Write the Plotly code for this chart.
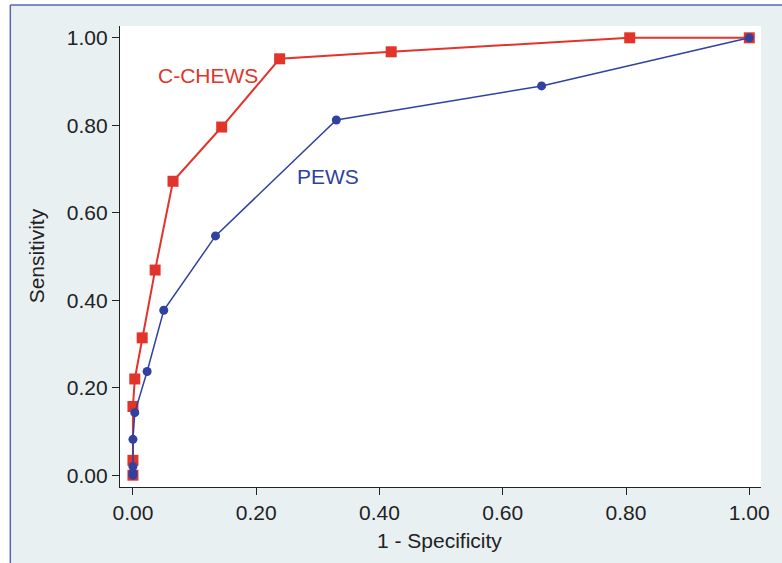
import plotly.graph_objects as go

# ROC curve points (1 - specificity, sensitivity)
chews_fpr = [0.0, 0.0, 0.0, 0.003, 0.015, 0.036, 0.065, 0.144, 0.238, 0.419, 0.806, 1.0]
chews_tpr = [0.0, 0.034, 0.157, 0.220, 0.314, 0.469, 0.672, 0.796, 0.952, 0.968, 1.0, 1.0]

pews_fpr = [0.0, 0.0, 0.0, 0.0, 0.003, 0.023, 0.050, 0.134, 0.330, 0.663, 1.0]
pews_tpr = [0.0, 0.005, 0.020, 0.082, 0.143, 0.237, 0.377, 0.547, 0.812, 0.890, 1.0]

tick_vals = [0.0, 0.2, 0.4, 0.6, 0.8, 1.0]
tick_text = ["0.00", "0.20", "0.40", "0.60", "0.80", "1.00"]

RED = "#e2342b"
BLUE = "#3041a0"
BG = "#e9f0f2"
FRAME = "#5c64b8"
FONT = "Liberation Sans, Arial, Helvetica, sans-serif"

fig = go.Figure()
fig.add_trace(go.Scatter(
    x=chews_fpr, y=chews_tpr, mode="lines+markers", name="C-CHEWS",
    line=dict(color=RED, width=2),
    marker=dict(symbol="square", size=11, color=RED),
))
fig.add_trace(go.Scatter(
    x=pews_fpr, y=pews_tpr, mode="lines+markers", name="PEWS",
    line=dict(color=BLUE, width=1.5),
    marker=dict(symbol="circle", size=9, color=BLUE),
))

axis_common = dict(
    tickvals=tick_vals, ticktext=tick_text, ticks="outside", ticklen=7,
    tickwidth=1.3, tickcolor="#222", showline=True, linecolor="#222",
    linewidth=1.3, showgrid=False, zeroline=False,
    tickfont=dict(family=FONT, size=21, color="#222"),
)

fig.update_layout(
    width=782, height=563,
    margin=dict(l=120, r=19, t=26, b=76),
    paper_bgcolor=BG, plot_bgcolor="white",
    showlegend=False,
    xaxis=dict(range=[-0.021, 1.019], **axis_common),
    yaxis=dict(range=[-0.027, 1.027], **axis_common),
    shapes=[
        # white strips outside the framed panel
        dict(type="rect", xref="paper", yref="paper", x0=-0.3, x1=-0.1711,
             y0=-0.3, y1=1.2, fillcolor="white", line=dict(width=0), layer="below"),
        dict(type="rect", xref="paper", yref="paper", x0=-0.3, x1=1.2,
             y0=1.0456, y1=1.2, fillcolor="white", line=dict(width=0), layer="below"),
        # panel frame
        dict(type="line", xref="paper", yref="paper", x0=-0.1711, x1=-0.1711,
             y0=-0.3, y1=1.0456, line=dict(color=FRAME, width=1.5)),
        dict(type="line", xref="paper", yref="paper", x0=-0.1711, x1=1.2,
             y0=1.0456, y1=1.0456, line=dict(color=FRAME, width=1.5)),
    ],
    annotations=[
        dict(x=0.121, y=0.913, xref="x", yref="y", text="C-CHEWS", showarrow=False,
             xanchor="center", yanchor="middle",
             font=dict(family=FONT, size=21, color=RED)),
        dict(x=0.317, y=0.682, xref="x", yref="y", text="PEWS", showarrow=False,
             xanchor="center", yanchor="middle",
             font=dict(family=FONT, size=21, color=BLUE)),
        dict(x=-0.1306, y=0.501, xref="paper", yref="paper", text="Sensitivity",
             textangle=-90, showarrow=False, xanchor="center", yanchor="middle",
             font=dict(family=FONT, size=21, color="#222")),
        dict(x=0.498, y=-0.117, xref="paper", yref="paper", text="1 - Specificity",
             showarrow=False, xanchor="center", yanchor="middle",
             font=dict(family=FONT, size=21, color="#222")),
    ],
)

fig.write_html("out.html")
